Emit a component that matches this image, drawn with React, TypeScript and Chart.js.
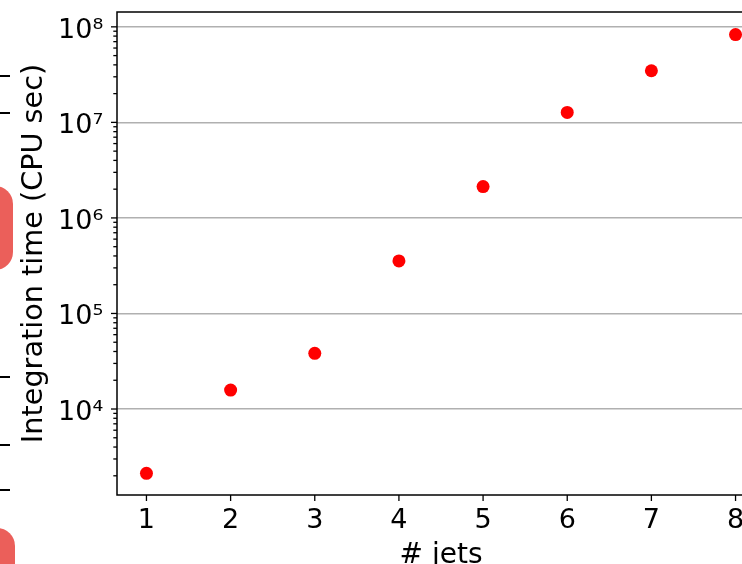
import React, { useEffect, useRef } from "react";
import { Chart, registerables } from "chart.js";

Chart.register(...registerables);

// ---- data ----
const jets = [1, 2, 3, 4, 5, 6, 7, 8];
const cpuSeconds = [2125, 15800, 38300, 355000, 2130000, 12700000, 34700000, 83000000];
const xTickValues = [1, 2, 3, 4, 5, 6, 7, 8];
const yMajorExponents = [4, 5, 6, 7, 8];
const xTitle = "# jets";
const yTitle = "Integration time (CPU sec)";

const X_MIN = 0.65;
const X_MAX = 8.35;
const Y_MIN = 1259;
const Y_MAX = 1.43e8;

const SUP: Record<string, string> = {
  "0": "⁰", "1": "¹", "2": "²", "3": "³", "4": "⁴",
  "5": "⁵", "6": "⁶", "7": "⁷", "8": "⁸", "9": "⁹", "-": "⁻",
};
const sup = (n: number) => String(n).split("").map((c) => SUP[c] || c).join("");

const FONT = "'DejaVu Sans', sans-serif";

function buildYTicks() {
  const ticks: { value: number; major: boolean }[] = [];
  const lo = Math.floor(Math.log10(Y_MIN));
  const hi = Math.ceil(Math.log10(Y_MAX));
  for (let e = lo; e <= hi; e++) {
    for (let k = 1; k <= 9; k++) {
      const v = k * Math.pow(10, e);
      if (v < Y_MIN || v > Y_MAX) continue;
      const major = k === 1 && yMajorExponents.includes(e);
      ticks.push({ value: v, major });
    }
  }
  return ticks;
}

const frameAndTicks = {
  id: "frameAndTicks",
  afterDraw(chart: any) {
    const { ctx, chartArea: a, scales } = chart;
    ctx.save();
    ctx.strokeStyle = "#000";
    ctx.lineWidth = 1.3;
    const ys = scales.y;
    ys.ticks.forEach((t: any) => {
      const p = ys.getPixelForValue(t.value);
      const len = t.major ? 6 : 3.7;
      ctx.beginPath();
      ctx.moveTo(a.left - len, p);
      ctx.lineTo(a.left, p);
      ctx.stroke();
    });
    const xs = scales.x;
    xs.ticks.forEach((t: any) => {
      const p = xs.getPixelForValue(t.value);
      ctx.beginPath();
      ctx.moveTo(p, a.bottom);
      ctx.lineTo(p, a.bottom + 6);
      ctx.stroke();
    });
    ctx.lineWidth = 1.5;
    ctx.strokeRect(a.left, a.top, a.right - a.left, a.bottom - a.top);
    ctx.restore();
  },
};

export default function App() {
  const ref = useRef<HTMLCanvasElement | null>(null);

  useEffect(() => {
    if (!ref.current) return;
    const chart = new Chart(ref.current, {
      type: "scatter",
      data: {
        datasets: [
          {
            data: jets.map((x, i) => ({ x, y: cpuSeconds[i] })),
            backgroundColor: "#ff0000",
            borderWidth: 0,
            pointRadius: 6.5,
            pointHoverRadius: 6.5,
          },
        ],
      },
      options: {
        animation: false,
        responsive: false,
        events: [],
        layout: { autoPadding: false, padding: { top: 12, right: 15, left: 0, bottom: 0 } },
        plugins: { legend: { display: false }, tooltip: { enabled: false } },
        scales: {
          x: {
            type: "linear",
            min: X_MIN,
            max: X_MAX,
            afterBuildTicks: (s: any) => {
              s.ticks = xTickValues.map((v) => ({ value: v }));
            },
            afterFit: (s: any) => {
              s.height = 85;
              s.paddingLeft = 0;
              s.paddingRight = 0;
              s.paddingTop = 0;
              s.paddingBottom = 0;
            },
            border: { display: false },
            grid: {
              drawOnChartArea: false,
              drawTicks: true,
              tickLength: 6,
              tickColor: "rgba(0,0,0,0)",
            },
            ticks: {
              autoSkip: false,
              maxRotation: 0,
              padding: 4,
              color: "#000",
              font: { family: FONT, size: 27 },
              callback: (v: any) => String(v),
            },
            title: {
              display: true,
              text: xTitle,
              color: "#000",
              font: { family: FONT, size: 28 },
              padding: { top: 0, bottom: 7 },
            },
          },
          y: {
            type: "logarithmic",
            min: Y_MIN,
            max: Y_MAX,
            afterBuildTicks: (s: any) => {
              s.ticks = buildYTicks();
            },
            afterFit: (s: any) => {
              s.width = 117;
              s.paddingLeft = 0;
              s.paddingRight = 0;
              s.paddingTop = 0;
              s.paddingBottom = 0;
            },
            border: { display: false },
            grid: {
              drawTicks: true,
              tickLength: 6,
              tickColor: "rgba(0,0,0,0)",
              lineWidth: 1.5,
              color: (c: any) => (c.tick && c.tick.major ? "#b0b0b0" : "rgba(0,0,0,0)"),
            },
            ticks: {
              autoSkip: false,
              padding: 7.7,
              labelOffset: 4,
              color: "#000",
              font: { family: FONT, size: 27 },
              callback: function (this: any, value: any, index: number, ticks: any[]) {
                if (!ticks[index].major) return "";
                return "10" + sup(Math.round(Math.log10(Number(value))));
              },
            },
            title: {
              display: true,
              text: yTitle,
              color: "#000",
              font: { family: FONT, size: 28.7 },
              padding: { top: 17.5, bottom: 0 },
            },
          },
        },
      },
      plugins: [frameAndTicks],
    } as any);
    return () => chart.destroy();
  }, []);

  const tickMark = (top: number) => (
    <div
      key={top}
      style={{ position: "absolute", left: 0, top, width: 10, height: 1.5, background: "#000" }}
    />
  );

  return (
    <div
      style={{
        position: "fixed",
        left: 0,
        top: 0,
        width: 742,
        height: 564,
        overflow: "hidden",
        background: "#fff",
      }}
    >
      <canvas ref={ref} width={780} height={580} style={{ display: "block", width: 780, height: 580 }} />
      {[75, 112, 376, 444, 489].map(tickMark)}
      <div
        style={{
          position: "absolute",
          left: -20,
          top: 186,
          width: 33,
          height: 84,
          background: "#eb5f5a",
          borderRadius: "0 18px 18px 0",
        }}
      />
      <div
        style={{
          position: "absolute",
          left: -20,
          top: 528,
          width: 35,
          height: 60,
          background: "#eb5f5a",
          borderRadius: "0 18px 0 0",
        }}
      />
    </div>
  );
}
